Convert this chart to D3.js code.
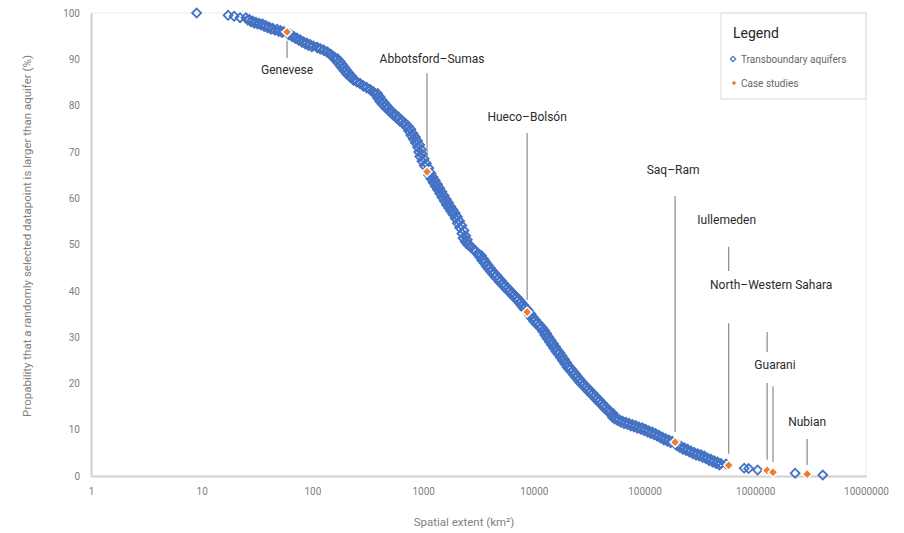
<!DOCTYPE html>
<html>
<head>
<meta charset="utf-8">
<script src="https://cdn.jsdelivr.net/npm/d3@7"></script>
<style>
  body { margin: 0; background: #fff; }
  text { font-family: Roboto, "Liberation Sans", sans-serif; }
</style>
</head>
<body>
<svg id="chart" width="904" height="533"></svg>
<script>
// transboundary aquifers: spatial extent (km2) and exceedance probability (%)
// left/centre of the band
const taArea = [
  9, 17.3, 19.6, 22.2, 25.1, 26.9, 28.8, 30.9, 33.1, 35.5,
  38.0, 40.7, 43.7, 47.9, 51.3, 55.0, 63.1, 67.6, 72.4, 77.6,
  83.2, 89.1, 95.5, 102, 110, 117, 126, 135, 145, 155,
  162, 170, 178, 186, 195, 204, 219, 234, 251, 269,
  288, 309, 331, 355, 372, 389, 407, 427, 447, 468,
  501, 537, 575, 617, 661, 708, 741, 776, 813, 851,
  891, 912, 933, 977, 1023, 1122, 1175, 1230, 1288, 1349,
  1413, 1479, 1549, 1622, 1698, 1778, 1862, 1950, 2042, 2138,
  2239, 2291, 2399, 2512, 2692, 2884, 3090, 3236, 3388, 3548,
  3715, 3890, 4074, 4266, 4467, 4677, 4898, 5129, 5370, 5623,
  5888, 6166, 6457, 6761, 7079, 7413, 7762, 8128, 9120, 9550,
  10000, 10470, 10960, 11480, 12020, 12590, 13180, 13800, 14450, 15140,
  15850, 16600, 17380, 18200, 19050, 19950, 20890, 21880, 22910, 23990,
  25120, 26300, 27540, 28840, 30200, 31620, 33110, 34670, 36310, 38020,
  39810, 41690, 43650, 45710, 47860, 50120, 52480, 54950, 58880, 63100,
  67610, 72440, 77620, 83180, 89130, 95500, 102300, 109600, 117500, 125900,
  134900, 144500, 154900, 166000, 177800, 199500, 213800, 229100, 245500, 263000,
  281800, 302000, 323600, 346700, 371500, 398100, 426600, 457100, 489800, 544500,
  794000, 871000, 1050000, 2290000, 4070000
];
const taProb = [
  100.0, 99.5, 99.3, 99.0, 99.0, 98.6, 98.3, 98.0, 97.8, 97.6,
  97.3, 97.0, 96.7, 96.5, 96.2, 96.0, 95.4, 95.0, 94.6, 94.2,
  93.8, 93.5, 93.2, 92.9, 92.6, 92.3, 92.0, 91.6, 91.0, 90.4,
  89.8, 89.2, 88.6, 88.0, 87.4, 86.8, 86.1, 85.6, 85.2, 84.8,
  84.3, 83.9, 83.5, 83.0, 82.3, 81.6, 80.9, 80.3, 79.8, 79.3,
  78.6, 77.9, 77.3, 76.6, 76.0, 75.3, 74.5, 73.6, 72.8, 72.0,
  71.0, 70.0, 69.0, 68.0, 67.0, 65.0, 64.2, 63.4, 62.6, 61.8,
  61.0, 60.2, 59.4, 58.6, 57.9, 57.2, 56.5, 55.6, 54.6, 53.6,
  52.4, 51.4, 50.6, 50.0, 49.4, 48.7, 48.0, 47.3, 46.6, 46.0,
  45.3, 44.7, 44.1, 43.6, 43.0, 42.5, 41.9, 41.4, 40.9, 40.4,
  39.9, 39.4, 38.9, 38.4, 37.9, 37.3, 36.7, 36.1, 34.7, 34.0,
  33.4, 32.9, 32.4, 31.9, 31.2, 30.4, 29.7, 29.0, 28.3, 27.6,
  26.9, 26.3, 25.6, 24.9, 24.2, 23.5, 23.0, 22.4, 21.8, 21.2,
  20.6, 20.1, 19.6, 19.1, 18.6, 18.1, 17.6, 17.1, 16.6, 16.1,
  15.6, 15.1, 14.6, 14.1, 13.7, 13.3, 12.9, 12.6, 12.2, 11.9,
  11.6, 11.4, 11.1, 10.9, 10.6, 10.4, 10.1, 9.8, 9.5, 9.2,
  8.8, 8.4, 8.1, 7.8, 7.5, 6.8, 6.4, 6.1, 5.8, 5.4,
  5.1, 4.8, 4.6, 4.3, 3.9, 3.6, 3.3, 3.0, 2.7, 2.6,
  1.7, 1.6, 1.3, 0.6, 0.2
];
// right/lower edge of the band
const taArea2 = [
  26.0, 27.8, 29.9, 32.0, 34.3, 36.7, 39.3, 42.2, 45.8, 49.6,
  53.1, 61, 65.3, 70.0, 75.0, 80.4, 86.1, 92.2, 98.7, 111,
  119, 127, 137, 147, 158, 169, 178, 186, 195, 203,
  213, 226, 235, 252, 270, 289, 310, 333, 357, 388,
  407, 426, 446, 468, 489, 518, 555, 595, 638, 683,
  732, 775, 811, 850, 890, 932, 964, 987, 1022, 1070,
  1124, 1177, 1228, 1286, 1347, 1410, 1477, 1547, 1620, 1696,
  1776, 1860, 1947, 2038, 2135, 2235, 2341, 2424, 2508, 2578,
  2730, 2925, 3134, 3352, 3510, 3675, 3849, 4030, 4220, 4419,
  4627, 4845, 5073, 5313, 5563, 5825, 6099, 6388, 6689, 7003,
  7333, 7679, 8041, 8420, 8904, 9434, 9893, 10360, 10840, 11360,
  11890, 12460, 13040, 13650, 14300, 14980, 15680, 16420, 17190, 18000,
  18850, 19740, 20670, 21650, 22660, 23730, 24850, 26020, 27240, 28540,
  29870, 31280, 32750, 34300, 35910, 37610, 39380, 41230, 43180, 45220,
  47350, 49580, 51920, 51290, 53700, 56900, 60950, 65310, 69980, 74990,
  80350, 86100, 92260, 98850, 105900, 113500, 121600, 130300, 139600, 149600,
  160300, 171800, 194000, 206500, 221300, 237200, 254100, 272200, 291700, 312600,
  335000, 358900, 384600, 412100, 441600, 473100
];
const taProb2 = [
  98.5, 98.1, 97.8, 97.6, 97.4, 97.1, 96.8, 96.5, 96.3, 96.0,
  95.8, 95.3, 94.9, 94.5, 94.1, 93.7, 93.3, 93.0, 92.7, 92.5,
  92.2, 91.9, 91.6, 91.1, 90.5, 90.1, 89.5, 88.9, 88.3, 87.7,
  87.1, 86.4, 85.5, 85.1, 84.7, 84.2, 83.8, 83.4, 82.9, 82.6,
  81.9, 81.2, 80.6, 80.0, 79.5, 78.9, 78.2, 77.6, 76.9, 76.3,
  75.6, 74.9, 74.0, 73.2, 72.4, 71.5, 70.5, 69.5, 68.5, 67.5,
  66.5, 65.4, 64.6, 63.8, 63.0, 62.2, 61.4, 60.6, 59.8, 59.0,
  58.2, 57.5, 56.8, 56.0, 55.1, 54.1, 53.0, 51.9, 51.0, 50.1,
  49.5, 48.8, 48.1, 47.6, 46.9, 46.3, 45.6, 45.0, 44.4, 43.8,
  43.3, 42.7, 42.2, 41.6, 41.1, 40.6, 40.1, 39.6, 39.1, 38.6,
  38.1, 37.6, 37.0, 36.4, 35.8, 35.0, 34.3, 33.7, 33.1, 32.6,
  32.1, 31.5, 30.8, 30.0, 29.3, 28.6, 27.9, 27.2, 26.6, 25.9,
  25.2, 24.5, 23.8, 23.2, 22.7, 22.1, 21.5, 20.9, 20.3, 19.8,
  19.3, 18.8, 18.3, 17.8, 17.3, 16.8, 16.3, 15.8, 15.3, 14.8,
  14.3, 13.9, 13.5, 12.7, 12.3, 12.0, 11.6, 11.3, 11.1, 10.8,
  10.6, 10.3, 10.1, 9.8, 9.5, 9.2, 8.9, 8.6, 8.2, 7.8,
  7.5, 7.2, 6.6, 6.2, 5.8, 5.5, 5.2, 4.8, 4.5, 4.3,
  4.0, 3.7, 3.3, 3.0, 2.7, 2.4
];

// case studies
const caseNames = ["Genevese", "Abbotsford\u2013Sumas", "Hueco\u2013Bols\u00f3n", "Saq\u2013Ram",
                   "Iullemeden", "North\u2013Western Sahara", "Guarani", "Nubian"];
const caseArea = [59, 1084, 8690, 188700, 575000, 1280000, 1445000, 2940000];
const caseProb = [95.9, 65.7, 35.4, 7.3, 2.3, 1.2, 0.8, 0.4];

const xTicks = [1, 10, 100, 1000, 10000, 100000, 1000000, 10000000];
const yTicks = [0, 10, 20, 30, 40, 50, 60, 70, 80, 90, 100];

// label placement (label baseline and leader segments, in % units; dx in px)
const annot = [
  {dx: 0,  label: 86.8, lines: [[94.0, 90.3]]},
  {dx: 5,  label: 89.2, lines: [[87.0, 68.3]]},
  {dx: 0,  label: 76.7, lines: [[74.1, 38.0]]},
  {dx: -2, label: 65.2, lines: [[60.5, 9.5]]},
  {dx: -2, label: 54.4, lines: [[49.5, 44.3], [33.0, 4.8]]},
  {dx: 4,  label: 40.4, lines: [[31.1, 26.8], [20.1, 3.5]]},
  {dx: 2,  label: 23.1, lines: [[19.4, 3.0]]},
  {dx: 0,  label: 10.8, lines: [[8.0, 2.4]]}
];

const margin = {top: 13, right: 38, bottom: 57, left: 91};
const W = 904, H = 533;
const iw = W - margin.left - margin.right;
const ih = H - margin.top - margin.bottom;

const blue = "#4472C4", orange = "#ED7D31";

const svg = d3.select("#chart");
const g = svg.append("g").attr("transform", `translate(${margin.left},${margin.top})`);

const x = d3.scaleLog().domain([1, 10000000]).range([0, iw]);
const y = d3.scaleLinear().domain([0, 100]).range([ih, 0]);

// plot frame (light top/right)
g.append("line").attr("x1", 0).attr("x2", iw).attr("y1", 0).attr("y2", 0)
  .attr("stroke", "#ebebeb").attr("stroke-width", 1);
g.append("line").attr("x1", iw).attr("x2", iw).attr("y1", 0).attr("y2", ih)
  .attr("stroke", "#ebebeb").attr("stroke-width", 1);

// axes
const xAxis = g.append("g").attr("transform", `translate(0,${ih})`)
  .call(d3.axisBottom(x).tickValues(xTicks).tickFormat(d3.format("d")).tickSize(0).tickPadding(12));
const yAxis = g.append("g")
  .call(d3.axisLeft(y).tickValues(yTicks).tickSize(0).tickPadding(11));
[xAxis, yAxis].forEach(a => {
  a.select(".domain").attr("stroke", "#d0d0d0").attr("stroke-width", 2);
  a.selectAll("text").attr("fill", "#808080").style("font-size", "10px")
    .style("font-family", "Roboto, sans-serif");
});

// axis titles
svg.append("text")
  .attr("x", 464).attr("y", 526).attr("text-anchor", "middle")
  .attr("fill", "#7f7f7f").style("font-size", "11.5px")
  .text("Spatial extent (km\u00b2)");
svg.append("text")
  .attr("transform", "translate(31,236) rotate(-90)").attr("text-anchor", "middle")
  .attr("fill", "#7f7f7f").style("font-size", "11.5px")
  .text("Propability that a randomly selected datapoint is larger than aquifer (%)");

const diamond = (s) => d3.symbol().type(d3.symbolSquare).size(s)();

// transboundary aquifers
const taPoints = taArea.map((a, i) => [a, taProb[i]])
  .concat(taArea2.map((a, i) => [a, taProb2[i]]));
g.append("g").selectAll("path")
  .data(taPoints)
  .enter().append("path")
  .attr("d", diamond(40))
  .attr("transform", d => `translate(${x(d[0])},${y(d[1])}) rotate(45)`)
  .attr("fill", "none")
  .attr("stroke", blue)
  .attr("stroke-width", 1.8);

// leader lines and labels
caseNames.forEach((name, i) => {
  const cx = x(caseArea[i]);
  annot[i].lines.forEach(seg => {
    g.append("line")
      .attr("x1", cx).attr("x2", cx)
      .attr("y1", y(seg[0])).attr("y2", y(seg[1]))
      .attr("stroke", "#8a8a8a").attr("stroke-width", 1.2);
  });
  g.append("text")
    .attr("x", cx + annot[i].dx).attr("y", y(annot[i].label))
    .attr("text-anchor", "middle")
    .attr("fill", "#2b2b2b").style("font-size", "12px")
    .text(name);
});

// case studies on top
g.append("g").selectAll("path")
  .data(d3.range(caseArea.length))
  .enter().append("path")
  .attr("d", diamond(48))
  .attr("transform", i => `translate(${x(caseArea[i])},${y(caseProb[i])}) rotate(45)`)
  .attr("fill", orange)
  .attr("stroke", "#fff")
  .attr("stroke-width", 1.5);

// legend
const lg = svg.append("g").attr("transform", "translate(721,13)");
lg.append("rect").attr("width", 145).attr("height", 86)
  .attr("fill", "#fff").attr("stroke", "#d9d9d9").attr("stroke-width", 1);
lg.append("text").attr("x", 12).attr("y", 25)
  .attr("fill", "#262626").style("font-size", "14px").text("Legend");
lg.append("path").attr("d", diamond(14))
  .attr("transform", "translate(12,46) rotate(45)")
  .attr("fill", "none").attr("stroke", blue).attr("stroke-width", 1.2);
lg.append("text").attr("x", 20).attr("y", 50)
  .attr("fill", "#666").style("font-size", "10px").text("Transboundary aquifers");
lg.append("path").attr("d", diamond(10))
  .attr("transform", "translate(13,70) rotate(45)")
  .attr("fill", orange);
lg.append("text").attr("x", 20).attr("y", 74)
  .attr("fill", "#666").style("font-size", "10px").text("Case studies");
</script>
</body>
</html>
